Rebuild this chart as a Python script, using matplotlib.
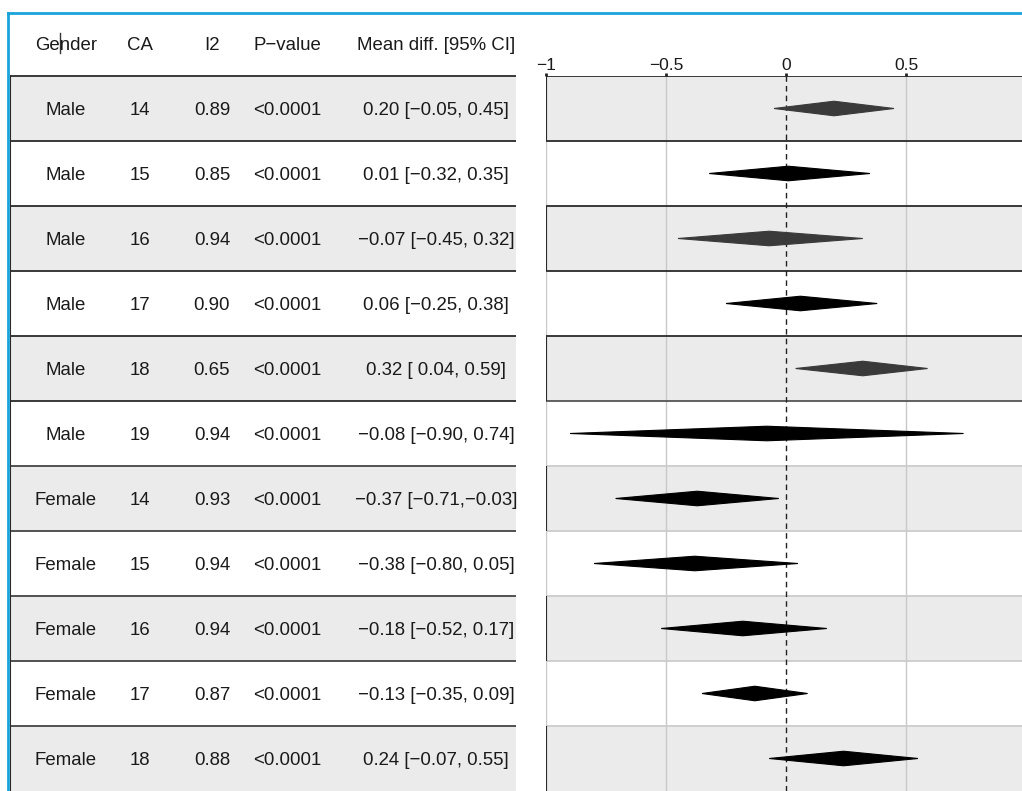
import matplotlib
matplotlib.use('Agg')
import matplotlib.pyplot as plt
from matplotlib.patches import Polygon
from matplotlib.lines import Line2D

plt.rcParams['font.family'] = ['Liberation Sans', 'DejaVu Sans']

# 数据
gender = ['Male', 'Male', 'Male', 'Male', 'Male', 'Male',
          'Female', 'Female', 'Female', 'Female', 'Female']
ca = [14, 15, 16, 17, 18, 19, 14, 15, 16, 17, 18]
i2 = [0.89, 0.85, 0.94, 0.90, 0.65, 0.94, 0.93, 0.94, 0.94, 0.87, 0.88]
p_value = ['<0.0001'] * 11
mean_diff = [0.20, 0.01, -0.07, 0.06, 0.32, -0.08, -0.37, -0.38, -0.18, -0.13, 0.24]
ci_low = [-0.05, -0.32, -0.45, -0.25, 0.04, -0.90, -0.71, -0.80, -0.52, -0.35, -0.07]
ci_high = [0.45, 0.35, 0.32, 0.38, 0.59, 0.74, -0.03, 0.05, 0.17, 0.09, 0.55]
x_ticks = [-1, -0.5, 0, 0.5]
x_tick_labels = ['\u22121', '\u22120.5', '0', '0.5']
headers = ['Gender', 'CA', 'I2', 'P\u2212value', 'Mean diff. [95% CI]']

diamond_colors = ['#3a3a3a', 'black', '#3a3a3a', 'black', '#3a3a3a', 'black',
                  'black', 'black', 'black', 'black', 'black']
n = len(gender)
W, H = 1022, 791
gray = '#ebebeb'
txt = '#1a1a1a'
fs = 13.4
dy = 0.025  # 文字微调


def fmt(v):
    return f"{v:.2f}".replace('-', '\u2212')


def ci_text(m, lo, hi):
    lo_s = fmt(lo) if lo < 0 else ' ' + fmt(lo)
    hi_s = fmt(hi) if hi < 0 else ' ' + fmt(hi)
    return f"{fmt(m)} [{lo_s},{hi_s}]"


fig = plt.figure(figsize=(W / 100, H / 100), dpi=100)

# 左侧表格
tab = fig.add_axes([10 / W, 0, 506 / W, 780 / H])
tab.set_xlim(0, 506)
tab.set_ylim(n, -1)
tab.axis('off')
col_x = [56, 130, 202, 277, 426]
for i in range(n):
    if i % 2 == 0:
        tab.axhspan(i, i + 1, color=gray, lw=0)
for k in range(n):
    c = '#2a2a2a' if k < 6 else '#444444'
    tab.axhline(k, color=c, lw=1.3)
tab.axvline(0, ymin=0, ymax=n / (n + 1), color='#2a2a2a', lw=1.5)
for x, h in zip(col_x, headers):
    tab.text(x, -0.5 + dy, h, ha='center', va='center', fontsize=fs, color=txt)
for i in range(n):
    y = i + 0.5 + dy
    tab.text(col_x[0], y, gender[i], ha='center', va='center', fontsize=fs, color=txt)
    tab.text(col_x[1], y, str(ca[i]), ha='center', va='center', fontsize=fs, color=txt)
    tab.text(col_x[2], y, f"{i2[i]:.2f}", ha='center', va='center', fontsize=fs, color=txt)
    tab.text(col_x[3], y, p_value[i], ha='center', va='center', fontsize=fs, color=txt)
    tab.text(col_x[4], y, ci_text(mean_diff[i], ci_low[i], ci_high[i]),
             ha='center', va='center', fontsize=fs, color=txt)
# 光标
tab.plot([50, 50], [-0.66, -0.36], color='#333333', lw=1)

# 右侧森林图
ax = fig.add_axes([546 / W, 0, (W - 546) / W, 715 / H])
ax.set_xlim(-1, (W - 786) / 240)
ax.set_ylim(n, 0)
for s in ax.spines.values():
    s.set_visible(False)
for i in range(n):
    if i % 2 == 0:
        ax.axhspan(i, i + 1, color=gray, lw=0, zorder=0)
for t in x_ticks:
    if t == 0:
        ax.axvline(t, color='#222222', lw=1, ls=(0, (4, 3)), zorder=2)
    else:
        ax.axvline(t, color='#c8c8c8', lw=1, zorder=1)
for i in range(n):
    if i % 2 == 0:
        ax.vlines(-1, i, i + 1, color='#2a2a2a', lw=1.5, zorder=2)
for k in range(n):
    if k < 5:
        c = '#2a2a2a'
    elif k == 5:
        c = '#555555'
    else:
        c = '#cccccc'
    ax.axhline(k, color=c, lw=1.3, zorder=1)
hh = 0.112
for i in range(n):
    y = i + 0.5
    pts = [(ci_low[i], y), (mean_diff[i], y - hh), (ci_high[i], y), (mean_diff[i], y + hh)]
    ax.add_patch(Polygon(pts, closed=True, facecolor=diamond_colors[i],
                         edgecolor=diamond_colors[i], lw=0.8, zorder=3))
ax.xaxis.tick_top()
ax.set_xticks(x_ticks)
ax.set_xticklabels(x_tick_labels, fontsize=12.5, color=txt)
ax.tick_params(axis='x', length=2, width=2, pad=0.5, color='#222222')
ax.set_yticks([])

# 蓝色边框
fig.add_artist(Line2D([8 / W, 1], [1 - 12.5 / H, 1 - 12.5 / H], color='#1aa3d9', lw=2))
fig.add_artist(Line2D([8 / W, 8 / W], [0, 1 - 12.5 / H], color='#1aa3d9', lw=2))

fig.savefig('out.png', dpi=100, facecolor='white')
